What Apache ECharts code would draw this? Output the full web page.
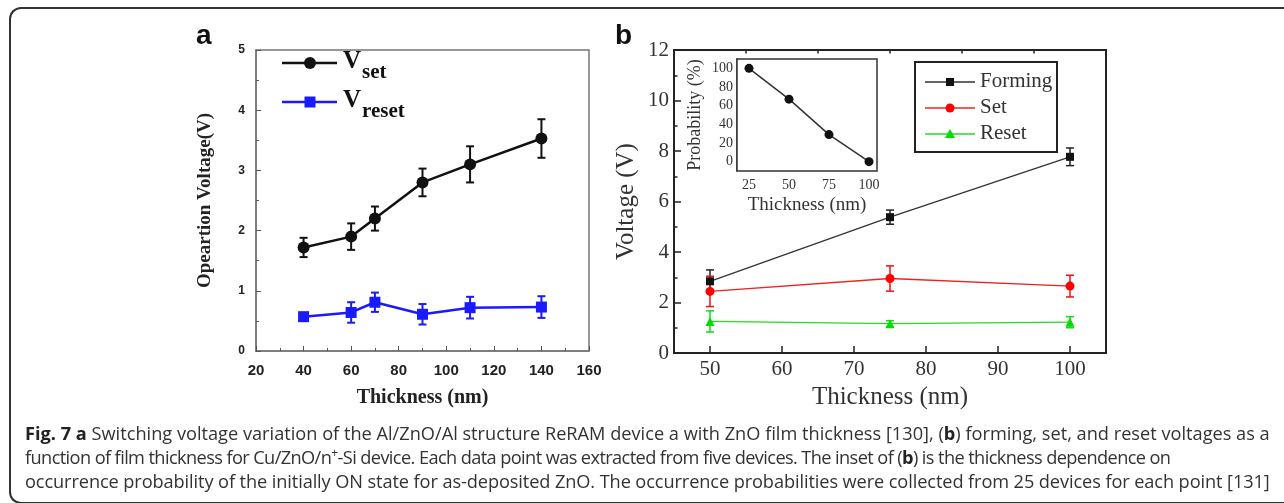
<!DOCTYPE html>
<html>
<head>
<meta charset="utf-8">
<script src="https://cdn.jsdelivr.net/npm/echarts@6/dist/echarts.min.js"></script>
<style>
  html, body { margin: 0; padding: 0; background: #fff; }
  #wrap { position: relative; width: 1284px; height: 503px; overflow: hidden; }
  #frame {
    position: absolute; left: 9px; top: 7px; width: 1300px; height: 493px;
    border: 2px solid #333; border-right: none; border-radius: 12px 0 0 12px;
  }
  #chart { position: absolute; left: 0; top: 0; width: 1284px; height: 503px; }
  #caption {
    position: absolute; left: 25px; top: 421px; white-space: nowrap;
    font-family: 'Open Sans', sans-serif; font-size: 18.2px; line-height: 24px; color: #333;
  }
  #caption div { height: 24px; }
  #caption b { color: #222; }
  #caption sup { font-size: 12px; line-height: 0; }
</style>
</head>
<body>
<div id="wrap">
  <div id="frame"></div>
  <div id="chart"></div>
  <div id="caption">
    <div><b>Fig. 7 a</b> Switching voltage variation of the Al/ZnO/Al structure ReRAM device a with ZnO film thickness [130], (<b>b</b>) forming, set, and reset voltages as a</div>
    <div style="letter-spacing:-0.6px">function of film thickness for Cu/ZnO/n<sup>+</sup>-Si device. Each data point was extracted from five devices. The inset of (<b>b</b>) is the thickness dependence on</div>
    <div style="letter-spacing:-0.1px">occurrence probability of the initially ON state for as-deposited ZnO. The occurrence probabilities were collected from 25 devices for each point [131]</div>
  </div>
</div>
<script>
// panel a
var thickA = [40, 60, 70, 90, 110, 140];
var vSet = [1.72, 1.9, 2.2, 2.8, 3.1, 3.53];
var vSetErr = [0.16, 0.22, 0.2, 0.23, 0.3, 0.32];
var vReset = [0.57, 0.64, 0.81, 0.61, 0.72, 0.73];
var vResetErr = [0.06, 0.17, 0.16, 0.17, 0.18, 0.18];

// panel b
var thickB = [50, 75, 100];
var forming = [2.84, 5.38, 7.77];
var formingErr = [0.45, 0.28, 0.35];
var setB = [2.44, 2.95, 2.65];
var setBErr = [0.6, 0.5, 0.43];
var resetB = [1.25, 1.16, 1.22];
var resetBErr = [0.42, 0.12, 0.22];

// inset
var thickIn = [25, 50, 75, 100];
var prob = [100, 67, 29, 0];

var xLabelsB = [50, 60, 70, 80, 90, 100];
var xMinorB = [55, 65, 75, 85, 95];
var xLabelsIn = [25, 50, 75, 100];
var xTicksIn = [25, 37.5, 50, 62.5, 75, 87.5, 100];
var yLabelsIn = [0, 20, 40, 60, 80, 100];
var yTicksIn = [0, 10, 20, 30, 40, 50, 60, 70, 80, 90, 100];

var TIMES = "'Liberation Serif', 'Times New Roman', serif";
var ARIAL = "'Liberation Sans', Arial, sans-serif";

function pts(xs, ys) {
  return xs.map(function (x, i) { return [x, ys[i]]; });
}
function errPts(xs, ys, es) {
  return xs.map(function (x, i) { return [x, ys[i], es[i]]; });
}

function errorBars(color, cap, lw) {
  return function (params, api) {
    var x = api.value(0), y = api.value(1), e = api.value(2);
    var t = api.coord([x, y + e]);
    var b = api.coord([x, y - e]);
    var st = { stroke: color, lineWidth: lw };
    return {
      type: 'group',
      children: [
        { type: 'line', shape: { x1: t[0], y1: t[1], x2: b[0], y2: b[1] }, style: st },
        { type: 'line', shape: { x1: t[0] - cap / 2, y1: t[1], x2: t[0] + cap / 2, y2: t[1] }, style: st },
        { type: 'line', shape: { x1: b[0] - cap / 2, y1: b[1], x2: b[0] + cap / 2, y2: b[1] }, style: st }
      ]
    };
  };
}

function errSeries(xi, yi, data, color, cap, lw) {
  return {
    type: 'custom', xAxisIndex: xi, yAxisIndex: yi, z: 1, silent: true,
    renderItem: errorBars(color, cap, lw),
    encode: { x: 0, y: 1 },
    data: data
  };
}

var chart = echarts.init(document.getElementById('chart'));

var option = {
  animation: false,
  grid: [
    { left: 256, top: 50, width: 333, height: 301, show: true, borderColor: '#777', borderWidth: 1.5 },
    { left: 674, top: 50, width: 432, height: 303, show: true, borderColor: '#222', borderWidth: 2 },
    { left: 737, top: 59, width: 140, height: 112, show: true, borderColor: '#333', borderWidth: 1.5, backgroundColor: '#fff', z: 5 }
  ],
  xAxis: [
    {
      gridIndex: 0, type: 'value', min: 20, max: 160, interval: 20,
      axisLine: { lineStyle: { color: '#777', width: 1.5 } },
      axisTick: { inside: true, length: 5, lineStyle: { color: '#555' } },
      minorTick: { show: true, splitNumber: 2, length: 3, lineStyle: { color: '#555' } },
      splitLine: { show: false },
      axisLabel: { margin: 12, fontFamily: ARIAL, fontWeight: 'bold', fontSize: 15, color: '#222' },
      name: 'Thickness (nm)', nameLocation: 'middle', nameGap: 37,
      nameTextStyle: { fontFamily: TIMES, fontWeight: 'bold', fontSize: 20, color: '#222' }
    },
    {
      gridIndex: 1, type: 'value', min: 45, max: 105,
      axisLine: { lineStyle: { color: '#222', width: 2 } },
      axisTick: { inside: true, length: 7, customValues: xLabelsB, lineStyle: { color: '#222', width: 1.5 } },
      splitLine: { show: false },
      axisLabel: { margin: 6, customValues: xLabelsB, fontFamily: TIMES, fontSize: 21, color: '#333' },
      name: 'Thickness (nm)', nameLocation: 'middle', nameGap: 29,
      nameTextStyle: { fontFamily: TIMES, fontSize: 25, color: '#333' }
    },
    {
      gridIndex: 2, type: 'value', min: 17.5, max: 105,
      axisLine: { lineStyle: { color: '#333', width: 1.5 } },
      axisTick: { inside: true, length: 3, customValues: xTicksIn, lineStyle: { color: '#333' } },
      splitLine: { show: false },
      axisLabel: { margin: 7, customValues: xLabelsIn, fontFamily: TIMES, fontSize: 14, color: '#333' },
      name: 'Thickness (nm)', nameLocation: 'middle', nameGap: 25,
      nameTextStyle: { fontFamily: TIMES, fontSize: 19, color: '#333' }
    },
    {
      // minor ticks for panel b
      gridIndex: 1, type: 'value', min: 45, max: 105,
      axisLine: { show: false },
      axisTick: { inside: true, length: 3.5, customValues: xMinorB, lineStyle: { color: '#222', width: 1.5 } },
      axisLabel: { show: false }, splitLine: { show: false }
    }
  ],
  yAxis: [
    {
      gridIndex: 0, type: 'value', min: 0, max: 5, interval: 1,
      axisLine: { show: true, lineStyle: { color: '#777', width: 1.5 } },
      axisTick: { show: true, inside: true, length: 5, lineStyle: { color: '#555' } },
      minorTick: { show: true, splitNumber: 2, length: 3, lineStyle: { color: '#555' } },
      splitLine: { show: false },
      axisLabel: { margin: 11, fontFamily: ARIAL, fontWeight: 'bold', fontSize: 12, color: '#222' },
      name: 'Opeartion Voltage(V)', nameLocation: 'middle', nameGap: 41,
      nameTextStyle: { fontFamily: TIMES, fontWeight: 'bold', fontSize: 19, color: '#222' }
    },
    {
      gridIndex: 1, type: 'value', min: 0, max: 12, interval: 2,
      axisLine: { show: true, lineStyle: { color: '#222', width: 2 } },
      axisTick: { show: true, inside: true, length: 7, lineStyle: { color: '#222', width: 1.5 } },
      minorTick: { show: true, splitNumber: 2, length: 3.5, lineStyle: { color: '#222', width: 1.5 } },
      splitLine: { show: false },
      axisLabel: { margin: 5, fontFamily: TIMES, fontSize: 21, color: '#333' },
      name: 'Voltage (V)', nameLocation: 'middle', nameGap: 35,
      nameTextStyle: { fontFamily: TIMES, fontSize: 25, color: '#333' }
    },
    {
      gridIndex: 2, type: 'value', min: -10, max: 110,
      axisLine: { show: true, lineStyle: { color: '#333', width: 1.5 } },
      axisTick: { show: true, inside: true, length: 3, customValues: yTicksIn, lineStyle: { color: '#333' } },
      splitLine: { show: false },
      axisLabel: { margin: 4, customValues: yLabelsIn, fontFamily: TIMES, fontSize: 14, color: '#333' },
      name: 'Probability (%)', nameLocation: 'middle', nameGap: 33,
      nameTextStyle: { fontFamily: TIMES, fontSize: 18, color: '#333' }
    }
  ],
  series: [
    errSeries(0, 0, errPts(thickA, vSet, vSetErr), '#111', 8, 2),
    errSeries(0, 0, errPts(thickA, vReset, vResetErr), '#1a1aff', 8, 2),
    {
      name: 'Vset', type: 'line', xAxisIndex: 0, yAxisIndex: 0, z: 3,
      data: pts(thickA, vSet), symbol: 'circle', symbolSize: 12,
      lineStyle: { color: '#111', width: 2.5 }, itemStyle: { color: '#111' }
    },
    {
      name: 'Vreset', type: 'line', xAxisIndex: 0, yAxisIndex: 0, z: 3,
      data: pts(thickA, vReset), symbol: 'rect', symbolSize: 11,
      lineStyle: { color: '#1a1aff', width: 2.5 }, itemStyle: { color: '#1a1aff' }
    },
    errSeries(1, 1, errPts(thickB, forming, formingErr), '#222', 8, 1.5),
    errSeries(1, 1, errPts(thickB, setB, setBErr), '#ee1111', 8, 1.5),
    errSeries(1, 1, errPts(thickB, resetB, resetBErr), '#11dd11', 8, 1.5),
    {
      name: 'Forming', type: 'line', xAxisIndex: 1, yAxisIndex: 1, z: 3,
      data: pts(thickB, forming), symbol: 'rect', symbolSize: 8,
      lineStyle: { color: '#333', width: 1.3 }, itemStyle: { color: '#111' }
    },
    {
      name: 'Set', type: 'line', xAxisIndex: 1, yAxisIndex: 1, z: 3,
      data: pts(thickB, setB), symbol: 'circle', symbolSize: 9,
      lineStyle: { color: '#ee2222', width: 1.3 }, itemStyle: { color: '#ff0000' }
    },
    {
      name: 'Reset', type: 'line', xAxisIndex: 1, yAxisIndex: 1, z: 3,
      data: pts(thickB, resetB), symbol: 'triangle', symbolSize: 9,
      lineStyle: { color: '#22dd22', width: 1.3 }, itemStyle: { color: '#00dd00' }
    },
    {
      name: 'Probability', type: 'line', xAxisIndex: 2, yAxisIndex: 2, z: 6,
      data: pts(thickIn, prob), symbol: 'circle', symbolSize: 9,
      lineStyle: { color: '#333', width: 1.5 }, itemStyle: { color: '#111' }
    }
  ],
  graphic: [
    // panel letters
    { type: 'text', left: 196, top: 22, style: { text: 'a', font: "bold 28px " + ARIAL, fill: '#111' } },
    { type: 'text', left: 615, top: 22, style: { text: 'b', font: "bold 28px " + ARIAL, fill: '#111' } },
    // legend a
    { type: 'line', shape: { x1: 282, y1: 63, x2: 337, y2: 63 }, style: { stroke: '#111', lineWidth: 2.5 } },
    { type: 'circle', shape: { cx: 310, cy: 63, r: 6 }, style: { fill: '#111' } },
    { type: 'text', x: 343, y: 49, style: { text: 'V', font: "bold 25px " + TIMES, fill: '#111' } },
    { type: 'text', x: 362, y: 62, style: { text: 'set', font: "bold 21px " + TIMES, fill: '#111' } },
    { type: 'line', shape: { x1: 282, y1: 102, x2: 337, y2: 102 }, style: { stroke: '#1a1aff', lineWidth: 2.5 } },
    { type: 'rect', shape: { x: 304.5, y: 96.5, width: 11, height: 11 }, style: { fill: '#1a1aff' } },
    { type: 'text', x: 343, y: 88, style: { text: 'V', font: "bold 25px " + TIMES, fill: '#111' } },
    { type: 'text', x: 362, y: 101, style: { text: 'reset', font: "bold 21px " + TIMES, fill: '#111' } },
    // legend b
    { type: 'rect', z: 10, shape: { x: 915, y: 62, width: 142, height: 90 }, style: { fill: '#fff', stroke: '#222', lineWidth: 2 } },
    { type: 'line', z: 11, shape: { x1: 925, y1: 82, x2: 975, y2: 82 }, style: { stroke: '#333', lineWidth: 1.3 } },
    { type: 'rect', z: 11, shape: { x: 946, y: 78, width: 8, height: 8 }, style: { fill: '#111' } },
    { type: 'text', z: 11, x: 980, y: 71, style: { text: 'Forming', font: "21px " + TIMES, fill: '#333' } },
    { type: 'line', z: 11, shape: { x1: 925, y1: 108, x2: 975, y2: 108 }, style: { stroke: '#ee2222', lineWidth: 1.3 } },
    { type: 'circle', z: 11, shape: { cx: 950, cy: 108, r: 4.5 }, style: { fill: '#ff0000' } },
    { type: 'text', z: 11, x: 980, y: 97, style: { text: 'Set', font: "21px " + TIMES, fill: '#333' } },
    { type: 'line', z: 11, shape: { x1: 925, y1: 134, x2: 975, y2: 134 }, style: { stroke: '#22dd22', lineWidth: 1.3 } },
    { type: 'polygon', z: 11, shape: { points: [[950, 129], [955, 138], [945, 138]] }, style: { fill: '#00dd00' } },
    { type: 'text', z: 11, x: 980, y: 123, style: { text: 'Reset', font: "21px " + TIMES, fill: '#333' } }
  ]
};

chart.setOption(option);
</script>
</body>
</html>
